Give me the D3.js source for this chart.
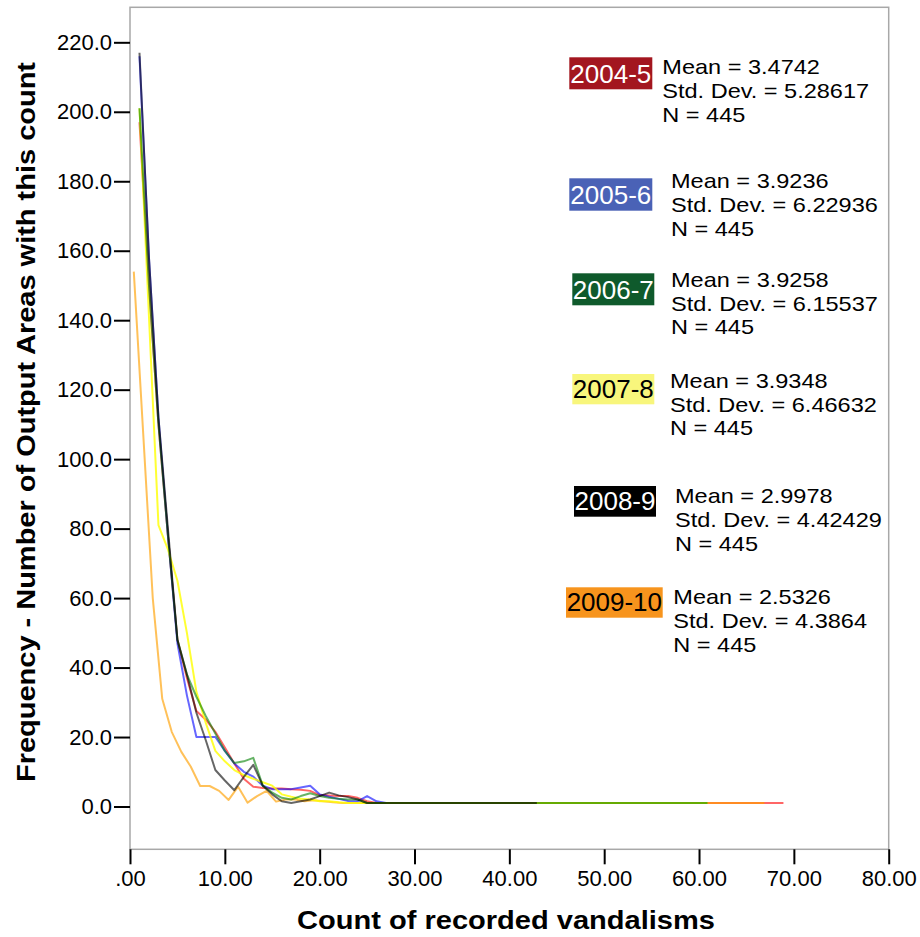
<!DOCTYPE html>
<html>
<head>
<meta charset="utf-8">
<script src="https://cdn.jsdelivr.net/npm/d3@7"></script>
<style>
  html, body { margin: 0; padding: 0; background: #fff; }
  svg { display: block; font-family: "Liberation Sans", Arial, sans-serif; }
</style>
</head>
<body>
<svg id="chart" width="920" height="937"></svg>
<script>
// ---------------- DATA ----------------
const xTickValues = [0, 10, 20, 30, 40, 50, 60, 70, 80];
const xTickLabels = [".00", "10.00", "20.00", "30.00", "40.00", "50.00", "60.00", "70.00", "80.00"];
const yTickValues = [0, 20, 40, 60, 80, 100, 120, 140, 160, 180, 200, 220];
const yTickLabels = ["0.0", "20.0", "40.0", "60.0", "80.0", "100.0", "120.0", "140.0", "160.0", "180.0", "200.0", "220.0"];

const seriesLabels = ["2004-5", "2005-6", "2006-7", "2007-8", "2008-9", "2009-10"];
const seriesMeans = ["3.4742", "3.9236", "3.9258", "3.9348", "2.9978", "2.5326"];
const seriesSDs = ["5.28617", "6.22936", "6.15537", "6.46632", "4.42429", "4.3864"];
const seriesN = ["445", "445", "445", "445", "445", "445"];

// counts (x) at which frequencies were read
const counts = [1, 2, 3, 4, 5, 6, 7, 8, 9, 10, 11, 12, 13, 14, 15, 16, 17, 18, 19, 20, 21, 22, 23, 24, 25, 26, 27];
const countsOrange = [0.4, 1.4, 2.4, 3.4, 4.4, 5.4, 6.4, 7.4, 8.4, 9.4, 10.4, 11.4, 12.4, 13.4, 14.4, 15.4, 16.4, 17.4, 18.4, 19.4, 20.4, 21.4, 22.4];

// frequencies (y)
const freq2004 = [197, 150, 110, 78, 48, 37, 27.5, 25, 21.5, 17, 12.4, 8, 5.7, 5.3, 5.2, 5.2, 5, 4.8, 4.5, 3.3, 3.2, 3, 3, 2.5, 1.5, 1];
const freq2005 = [216, 158, 112, 78, 47, 32, 20, 20, 20, 16, 12.4, 10, 8.6, 6, 5, 5, 5, 5.5, 6, 3.5, 2.8, 2.2, 1.6, 1.5, 3, 1.5, 1];
const freq2006 = [201, 150, 110, 78, 48, 38, 31.6, 26, 21, 16, 12.5, 13, 14, 6, 4, 2.5, 2, 3, 3.8, 3, 2.5, 2.2, 2, 2, 1];
const freq2007 = [201, 141, 81, 74, 65, 50, 33, 24, 16, 13, 10.5, 9, 8, 7, 6, 3.5, 2.8, 2.2, 2, 1.5, 1.5, 1.2, 1];
const freq2008 = [217, 158, 112, 80, 48, 38, 27, 19, 10.5, 7.5, 4.7, 8.5, 12, 6, 3.5, 1.5, 1, 1.5, 2, 3, 4, 3.2, 2.7, 2, 1];
const freq2009 = [154, 107, 60, 31, 21.5, 15.8, 11.5, 5.9, 5.9, 4.5, 1.9, 5.7, 1.1, 3, 4.5, 1.4, 2, 2, 1.5, 1.8, 1.5, 1.2, 1];

// last point of each long flat tail [count, frequency]
const tail2004 = [68.9, 1];
const tail2005 = [27, 1];
const tail2006 = [60.9, 1];
const tail2007 = [60.9, 1];
const tail2008 = [42.9, 1];
const tail2009 = [66.9, 1];

// ---------------- STYLE / LAYOUT ----------------
const lineColors = ["#ff0000", "#0000ff", "#008000", "#ffff00", "#000000", "#ffa000"];
const lineOpacity = [0.6, 0.6, 0.6, 0.8, 0.6, 0.65];
const boxColors = ["#a3161f", "#4a62b6", "#0f5a2c", "#f8f67c", "#000000", "#f7941d"];
const boxTextColors = ["#fff", "#fff", "#fff", "#000", "#fff", "#000"];
const boxRects = [
  [569.3, 57.3, 83, 32], [569.3, 178.3, 83, 32.4], [572.3, 273.3, 82, 32],
  [572.3, 374, 82, 30.3], [574, 486, 82, 30.7], [566, 587.3, 96.7, 30.4]
];
const statsPos = [
  [662.3, 74.3], [671, 188.3], [671, 286.7], [670, 387.7], [675, 503.3], [673.3, 604.3]
];

const svg = d3.select("#chart");
const x = d3.scaleLinear().domain([0, 80]).range([130, 888.7]);
const y = d3.scaleLinear().domain([-12.32, 230.08]).range([849.3, 7.3]);

const seriesData = [
  { freq: freq2004, xs: counts, tail: tail2004 },
  { freq: freq2005, xs: counts, tail: tail2005 },
  { freq: freq2006, xs: counts, tail: tail2006 },
  { freq: freq2007, xs: counts, tail: tail2007 },
  { freq: freq2008, xs: counts, tail: tail2008 },
  { freq: freq2009, xs: countsOrange, tail: tail2009 }
].map((s, i) => {
  const pts = s.freq.map((v, j) => [s.xs[j], v]);
  const last = pts[pts.length - 1];
  if (last[0] < s.tail[0]) pts.push(s.tail);
  return { i, pts };
});

// frame
svg.append("rect")
  .attr("x", x(0)).attr("y", y(230.08))
  .attr("width", x(80) - x(0)).attr("height", y(-12.32) - y(230.08))
  .attr("fill", "none").attr("stroke", "#a8a8a8").attr("stroke-width", 1.5);

// lines
const line = d3.line().x(d => x(d[0])).y(d => y(d[1]));
const drawOrder = [0, 5, 1, 3, 2, 4];
svg.append("g").selectAll("path")
  .data(drawOrder.map(k => seriesData[k]))
  .join("path")
  .attr("d", d => line(d.pts))
  .attr("fill", "none")
  .attr("stroke", d => lineColors[d.i])
  .attr("stroke-opacity", d => lineOpacity[d.i])
  .attr("stroke-width", 2)
  .attr("stroke-linejoin", "round");

// axes
const xAxis = d3.axisBottom(x).tickValues(xTickValues)
  .tickFormat((d, i) => xTickLabels[i]).tickSize(15).tickPadding(6);
const gx = svg.append("g").attr("transform", `translate(0,${y(-12.32)})`).call(xAxis);
gx.select(".domain").remove();
gx.selectAll(".tick line").attr("stroke", "#000").attr("stroke-width", 2);
gx.selectAll(".tick text").attr("font-size", 22).attr("fill", "#000")
  .attr("font-family", "'Liberation Sans', Arial, sans-serif");

const yAxis = d3.axisLeft(y).tickValues(yTickValues)
  .tickFormat((d, i) => yTickLabels[i]).tickSize(16).tickPadding(2);
const gy = svg.append("g").attr("transform", `translate(${x(0)},0)`).call(yAxis);
gy.select(".domain").remove();
gy.selectAll(".tick line").attr("stroke", "#000").attr("stroke-width", 2);
gy.selectAll(".tick text").attr("font-size", 22).attr("fill", "#000")
  .attr("font-family", "'Liberation Sans', Arial, sans-serif");

// axis titles
svg.append("text")
  .attr("x", 506).attr("y", 929)
  .attr("text-anchor", "middle").attr("font-size", 26).attr("font-weight", "bold")
  .attr("textLength", 418).attr("lengthAdjust", "spacingAndGlyphs")
  .text("Count of recorded vandalisms");

svg.append("text")
  .attr("transform", "translate(35,422) rotate(-90)")
  .attr("text-anchor", "middle").attr("font-size", 26).attr("font-weight", "bold")
  .attr("textLength", 720).attr("lengthAdjust", "spacingAndGlyphs")
  .text("Frequency - Number of Output Areas with this count");

// legend / stats
const leg = svg.append("g");
seriesLabels.forEach((lab, i) => {
  const [bx, by, bw, bh] = boxRects[i];
  leg.append("rect").attr("x", bx).attr("y", by).attr("width", bw).attr("height", bh)
    .attr("fill", boxColors[i]);
  leg.append("text").attr("x", bx + bw / 2).attr("y", by + bh - 6.6)
    .attr("text-anchor", "middle").attr("font-size", 26).attr("fill", boxTextColors[i])
    .text(lab);
  const [sx, sy] = statsPos[i];
  const lines = ["Mean = " + seriesMeans[i], "Std. Dev. = " + seriesSDs[i], "N = " + seriesN[i]];
  lines.forEach((t, j) => {
    const tx = leg.append("text").attr("x", sx).attr("y", sy + j * 23.8)
      .attr("font-size", 21).attr("fill", "#000").text(t);
    const w = tx.node().getComputedTextLength();
    tx.attr("textLength", w * 1.12).attr("lengthAdjust", "spacingAndGlyphs");
  });
});
</script>
</body>
</html>
